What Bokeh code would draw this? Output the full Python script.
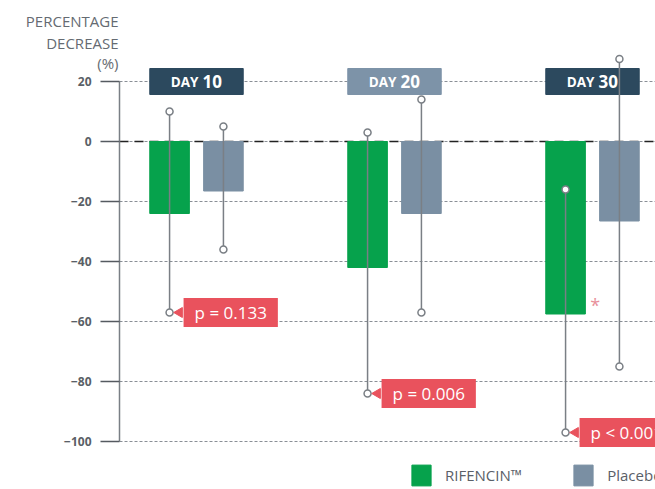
import math
from bokeh.plotting import figure
from bokeh.models import (Range1d, FixedTicker, Label, Legend, LegendItem, ColumnDataSource,
                          LinearAxis, Grid, BoxAnnotation)
from bokeh.core.properties import value
from bokeh.embed import file_html
from bokeh.resources import INLINE

# ---- data ----
days = ["10", "20", "30"]
rif_mean = [-24, -42, -57.5]
rif_high = [10, 3, -16]
rif_low = [-57, -84, -97]
pla_mean = [-16.5, -24, -26.5]
pla_high = [5, 14, 27.5]
pla_low = [-36, -57, -75]
p_values = ["p = 0.133", "p = 0.006", "p < 0.001"]
y_ticks = [20, 0, -20, -40, -60, -80, -100]
title_lines = ["PERCENTAGE", "DECREASE", "(%)"]
legend_labels = ["RIFENCIN™", "Placebo"]

# ---- style ----
GREEN = "#06a24c"
SLATE = "#7a8fa3"
NAVY = "#2c495e"
LIGHT = "#7d93a8"
RED = "#e9525d"
ERR = "#7a7f85"
FONT = "Open Sans"

day_x = list(range(len(days)))
off = 0.136
bw = 0.2
rif_x = [d - off for d in day_x]
pla_x = [d + off for d in day_x]
day_colors = [NAVY, LIGHT, NAVY]
axis_x = -0.3889
x_start, x_end = -0.9899, 2.3182

p = figure(width=655, height=489, x_range=Range1d(x_start, x_end), y_range=Range1d(-116, 47),
           output_backend="svg", toolbar_location=None, x_axis_location=None, y_axis_location=None,
           min_border_left=0, min_border_right=0, min_border_top=0, min_border_bottom=0,
           outline_line_color=None)
# drop any default grids
for r in list(p.center):
    if isinstance(r, Grid):
        r.visible = False

# axis (fixed inside the frame)
ticker = FixedTicker(ticks=y_ticks)
ax = LinearAxis(fixed_location=axis_x, ticker=ticker, bounds=(min(y_ticks), max(y_ticks)))
ax.major_tick_out = 19
ax.major_tick_in = 0
ax.minor_tick_line_color = None
ax.axis_line_color = ERR
ax.axis_line_width = 1.5
ax.major_tick_line_color = "#555a60"
ax.major_tick_line_width = 1.5
ax.major_label_standoff = 9
ax.major_label_text_font = FONT
ax.major_label_text_font_size = "12px"
ax.major_label_text_font_style = "bold"
ax.major_label_text_color = "#5a5f66"
p.add_layout(ax, "left")

has_cross = "cross_bounds" in Grid.properties()
extra = dict(cross_bounds=(axis_x, x_end + 1)) if has_cross else {}
p.add_layout(Grid(dimension=1, ticker=ticker, grid_line_dash="3 2", grid_line_color="#8a8f96",
                  grid_line_width=1, **extra))
p.add_layout(Grid(dimension=1, ticker=FixedTicker(ticks=[0]), grid_line_dash="9 6",
                  grid_line_color="#222222", grid_line_width=1.3, **extra))
if not has_cross:
    p.add_layout(BoxAnnotation(left=x_start - 1, right=axis_x, top=100, bottom=-200,
                               fill_color="white", fill_alpha=1, line_alpha=0, level="underlay"))

# bars
rif_src = ColumnDataSource(dict(x=rif_x, top=[0]*len(days), bottom=rif_mean, hi=rif_high, lo=rif_low))
pla_src = ColumnDataSource(dict(x=pla_x, top=[0]*len(days), bottom=pla_mean, hi=pla_high, lo=pla_low))
rif_bars = p.vbar(x="x", top="top", bottom="bottom", width=bw, source=rif_src, color=GREEN)
pla_bars = p.vbar(x="x", top="top", bottom="bottom", width=bw, source=pla_src, color=SLATE)

# day header boxes
day_src = ColumnDataSource(dict(x=day_x, y=[y_ticks[0]]*len(days), c=day_colors, d=days,
                                w=["DAY"]*len(days)))
p.rect(x="x", y="y", width=2*off + bw, height=26, height_units="screen",
       color="c", source=day_src)
p.text(x="x", y="y", text="w", source=day_src, x_offset=2, text_align="right",
       text_baseline="middle", text_color="white", text_font=value(FONT),
       text_font_size="13.5px", text_font_style="bold")
p.text(x="x", y="y", text="d", source=day_src, x_offset=6, text_align="left",
       text_baseline="middle", text_color="white", text_font=value(FONT),
       text_font_size="17px", text_font_style="bold")

# error bars
for src in (rif_src, pla_src):
    p.segment(x0="x", y0="lo", x1="x", y1="hi", source=src, line_color=ERR, line_width=1.5)
    p.scatter(x="x", y="hi", source=src, size=7, fill_color="white", line_color=ERR, line_width=1.5)
    p.scatter(x="x", y="lo", source=src, size=7, fill_color="white", line_color=ERR, line_width=1.5)

# p-value tags
p.scatter(x=[x + 0.05 for x in rif_x], y=rif_low, marker="triangle", size=10,
          angle=math.pi / 2, color=RED)
for x, y, t in zip(rif_x, rif_low, p_values):
    p.add_layout(Label(x=x, y=y, x_offset=14, text=t, text_align="left", text_baseline="middle",
                       text_color="white", text_font=FONT, text_font_size="17px",
                       background_fill_color=RED, padding=(11, 3)))

# significance asterisk
p.text(x=[rif_x[-1] + 0.15], y=[rif_mean[-1] + 3], text=["*"], text_align="center",
       text_baseline="middle", text_color="#e8909a", text_font=value(FONT), text_font_size="18px")

# y title
for ty, t in zip([40.3, 33, 26.3], title_lines):
    p.add_layout(Label(x=axis_x - 0.005, y=ty, text=t, text_align="right", text_baseline="middle",
                       text_color="#656b72", text_font=FONT, text_font_size="15px"))

legend = Legend(items=[LegendItem(label=legend_labels[0], renderers=[rif_bars]),
                       LegendItem(label=legend_labels[1], renderers=[pla_bars])],
                orientation="horizontal", location=(409, 1), glyph_width=24, glyph_height=26,
                label_text_font=FONT, label_text_font_size="15px", label_text_color="#5a6068",
                border_line_color=None, background_fill_alpha=0, padding=0, margin=0,
                spacing=49, label_standoff=12)
p.add_layout(legend)

open("out.html", "w").write(file_html(p, INLINE))
